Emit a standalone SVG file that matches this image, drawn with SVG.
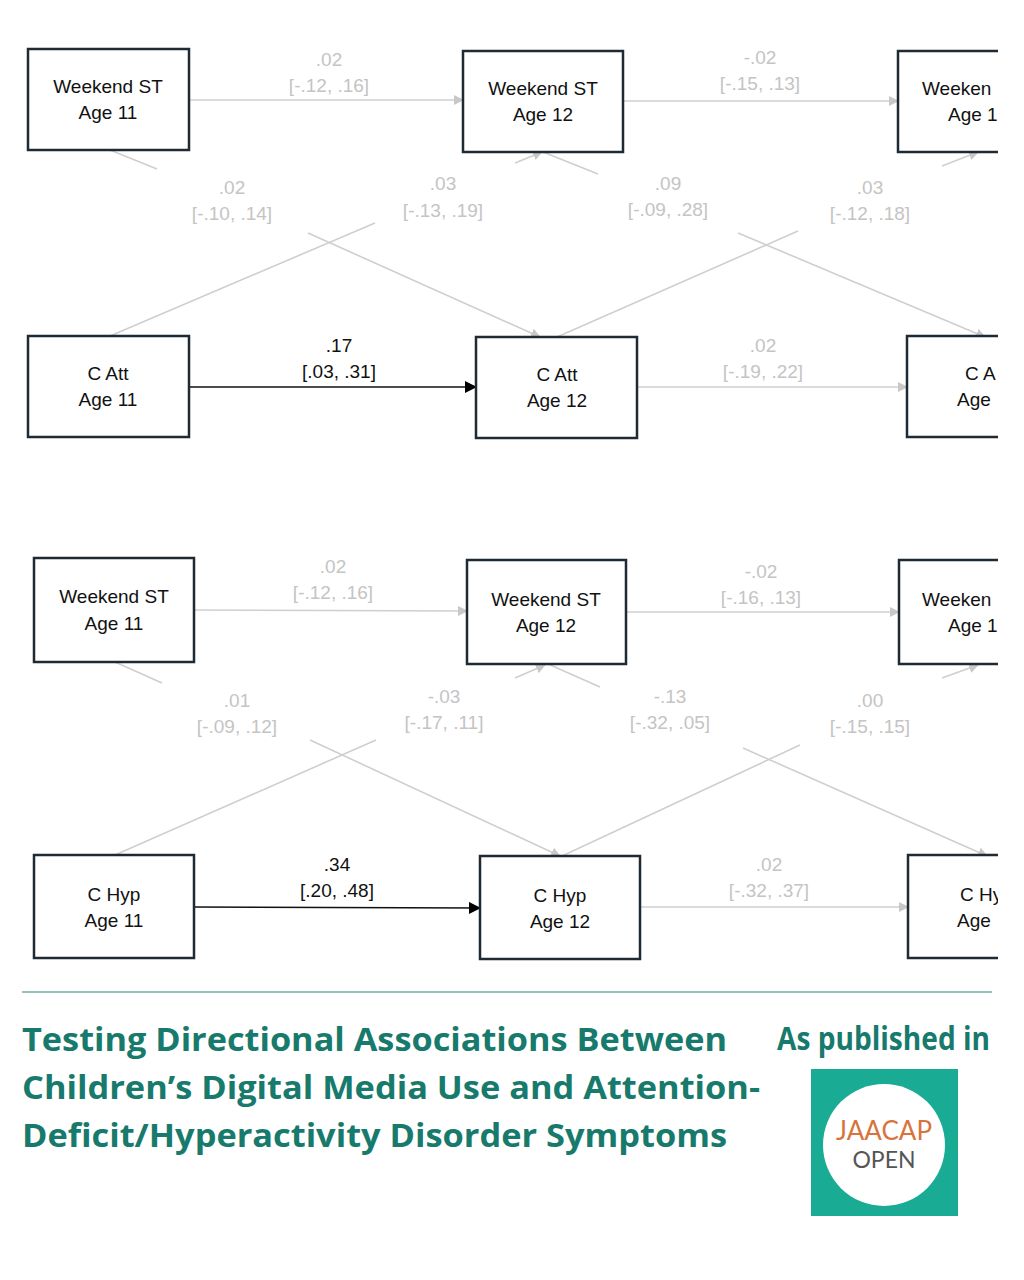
<svg xmlns="http://www.w3.org/2000/svg" width="1024" height="1280" viewBox="0 0 1024 1280">
<style>
.box{fill:#fff;stroke:#1f2a33;stroke-width:2.5}
.nt{font-family:"Liberation Sans",Arial,sans-serif;font-size:19px;fill:#111;text-anchor:middle}
.ns{font-family:"Liberation Sans",Arial,sans-serif;font-size:19px;fill:#111}
.lg{font-family:"Liberation Sans",Arial,sans-serif;font-size:19px;fill:#c4c4c4;text-anchor:middle}
.lb{font-family:"Liberation Sans",Arial,sans-serif;font-size:19px;fill:#111;text-anchor:middle}
.g{stroke:#cfcfcf;stroke-width:1.6;fill:none}
.k{stroke:#111;stroke-width:1.6;fill:none}
.tt{font-family:"Open Sans","Noto Sans",sans-serif;font-weight:bold;font-size:32px;fill:#177a6c}
</style>
<defs>
<marker id="ag" markerWidth="10" markerHeight="10" refX="9" refY="5" orient="auto" markerUnits="userSpaceOnUse"><path d="M0,0L10,5L0,10z" fill="#c8c8c8"/></marker>
<marker id="ak" markerWidth="12" markerHeight="12" refX="11" refY="6" orient="auto" markerUnits="userSpaceOnUse"><path d="M0,0L12,6L0,12z" fill="#000"/></marker>
<clipPath id="cp"><rect x="0" y="0" width="998" height="980"/></clipPath>
</defs>
<rect width="1024" height="1280" fill="#fff"/>
<g clip-path="url(#cp)">
<g id="connectors">
<line class="g" x1="189" y1="100" x2="463" y2="100" marker-end="url(#ag)"/>
<line class="g" x1="623" y1="101" x2="898" y2="101" marker-end="url(#ag)"/>
<line class="k" x1="189" y1="387" x2="476" y2="387" marker-end="url(#ak)"/>
<line class="g" x1="637" y1="387" x2="907" y2="387" marker-end="url(#ag)"/>
<line class="g" x1="110" y1="150" x2="157" y2="169"/>
<line class="g" x1="308" y1="233" x2="540" y2="337" marker-end="url(#ag)"/>
<line class="g" x1="110" y1="336" x2="375" y2="223"/>
<line class="g" x1="515" y1="163" x2="542" y2="152" marker-end="url(#ag)"/>
<line class="g" x1="543" y1="152" x2="598" y2="174"/>
<line class="g" x1="738" y1="233" x2="985" y2="337" marker-end="url(#ag)"/>
<line class="g" x1="557" y1="337" x2="798" y2="231"/>
<line class="g" x1="942" y1="166" x2="978" y2="152" marker-end="url(#ag)"/>
<line class="g" x1="194" y1="610" x2="467" y2="611" marker-end="url(#ag)"/>
<line class="g" x1="626" y1="612" x2="899" y2="612" marker-end="url(#ag)"/>
<line class="k" x1="194" y1="907" x2="480" y2="908" marker-end="url(#ak)"/>
<line class="g" x1="640" y1="907" x2="908" y2="907" marker-end="url(#ag)"/>
<line class="g" x1="115" y1="662" x2="162" y2="683"/>
<line class="g" x1="310" y1="740" x2="560" y2="856" marker-end="url(#ag)"/>
<line class="g" x1="115" y1="855" x2="376" y2="740"/>
<line class="g" x1="515" y1="678" x2="545" y2="665" marker-end="url(#ag)"/>
<line class="g" x1="548" y1="664" x2="600" y2="687"/>
<line class="g" x1="743" y1="748" x2="987" y2="856" marker-end="url(#ag)"/>
<line class="g" x1="562" y1="856" x2="800" y2="745"/>
<line class="g" x1="942" y1="678" x2="978" y2="665" marker-end="url(#ag)"/>
</g>
<g id="labels">
<text class="lg" x="329" y="66">.02</text><text class="lg" x="329" y="92">[-.12, .16]</text>
<text class="lg" x="760" y="64">-.02</text><text class="lg" x="760" y="90">[-.15, .13]</text>
<text class="lg" x="232" y="194">.02</text><text class="lg" x="232" y="220">[-.10, .14]</text>
<text class="lg" x="443" y="190">.03</text><text class="lg" x="443" y="217">[-.13, .19]</text>
<text class="lg" x="668" y="190">.09</text><text class="lg" x="668" y="216">[-.09, .28]</text>
<text class="lg" x="870" y="194">.03</text><text class="lg" x="870" y="220">[-.12, .18]</text>
<text class="lb" x="339" y="352">.17</text><text class="lb" x="339" y="378">[.03, .31]</text>
<text class="lg" x="763" y="352">.02</text><text class="lg" x="763" y="378">[-.19, .22]</text>
<text class="lg" x="333" y="573">.02</text><text class="lg" x="333" y="599">[-.12, .16]</text>
<text class="lg" x="761" y="578">-.02</text><text class="lg" x="761" y="604">[-.16, .13]</text>
<text class="lg" x="237" y="707">.01</text><text class="lg" x="237" y="733">[-.09, .12]</text>
<text class="lg" x="444" y="703">-.03</text><text class="lg" x="444" y="729">[-.17, .11]</text>
<text class="lg" x="670" y="703">-.13</text><text class="lg" x="670" y="729">[-.32, .05]</text>
<text class="lg" x="870" y="707">.00</text><text class="lg" x="870" y="733">[-.15, .15]</text>
<text class="lb" x="337" y="871">.34</text><text class="lb" x="337" y="897">[.20, .48]</text>
<text class="lg" x="769" y="871">.02</text><text class="lg" x="769" y="897">[-.32, .37]</text>
</g>
<g id="n1"><rect class="box" x="28" y="49" width="161" height="101"/><text class="nt" x="108" y="93">Weekend ST</text><text class="nt" x="108" y="119">Age 11</text></g>
<g id="n2"><rect class="box" x="463" y="51" width="160" height="101"/><text class="nt" x="543" y="95">Weekend ST</text><text class="nt" x="543" y="121">Age 12</text></g>
<g id="n3"><rect class="box" x="898" y="51" width="160" height="101"/><text class="ns" x="922" y="95">Weeken</text><text class="ns" x="948" y="121">Age 1</text></g>
<g id="n4"><rect class="box" x="28" y="336" width="161" height="101"/><text class="nt" x="108" y="380">C Att</text><text class="nt" x="108" y="406">Age 11</text></g>
<g id="n5"><rect class="box" x="476" y="337" width="161" height="101"/><text class="nt" x="557" y="381">C Att</text><text class="nt" x="557" y="407">Age 12</text></g>
<g id="n6"><rect class="box" x="907" y="336" width="160" height="101"/><text class="ns" x="965" y="380">C A</text><text class="ns" x="957" y="406">Age</text></g>
<g id="n7"><rect class="box" x="34" y="558" width="160" height="104"/><text class="nt" x="114" y="603">Weekend ST</text><text class="nt" x="114" y="630">Age 11</text></g>
<g id="n8"><rect class="box" x="467" y="560" width="159" height="104"/><text class="nt" x="546" y="606">Weekend ST</text><text class="nt" x="546" y="632">Age 12</text></g>
<g id="n9"><rect class="box" x="899" y="560" width="160" height="104"/><text class="ns" x="922" y="606">Weeken</text><text class="ns" x="948" y="632">Age 1</text></g>
<g id="n10"><rect class="box" x="34" y="855" width="160" height="103"/><text class="nt" x="114" y="901">C Hyp</text><text class="nt" x="114" y="927">Age 11</text></g>
<g id="n11"><rect class="box" x="480" y="856" width="160" height="103"/><text class="nt" x="560" y="902">C Hyp</text><text class="nt" x="560" y="928">Age 12</text></g>
<g id="n12"><rect class="box" x="908" y="855" width="160" height="103"/><text class="ns" x="960" y="901">C Hy</text><text class="ns" x="957" y="927">Age</text></g>
</g>
<line x1="22" y1="992" x2="992" y2="992" stroke="#2a8a7c" stroke-width="1.2"/>
<g id="title">
<text class="tt" x="22" y="1051" textLength="705" lengthAdjust="spacingAndGlyphs">Testing Directional Associations Between</text>
<text class="tt" x="22" y="1099" textLength="738" lengthAdjust="spacingAndGlyphs">Children’s Digital Media Use and Attention-</text>
<text class="tt" x="22" y="1147" textLength="705" lengthAdjust="spacingAndGlyphs">Deficit/Hyperactivity Disorder Symptoms</text>
<text class="tt" x="777" y="1050" font-size="27" textLength="213" lengthAdjust="spacingAndGlyphs">As published in</text>
</g>
<g id="logo">
<rect x="811" y="1069" width="147" height="147" fill="#1aab95"/>
<circle cx="884" cy="1145" r="61" fill="#fff"/>
<text x="884" y="1140" text-anchor="middle" font-family="Lato,'Liberation Sans',sans-serif" font-size="26" fill="#d9733d">JAACAP</text>
<text x="884" y="1168" text-anchor="middle" font-family="Lato,'Liberation Sans',sans-serif" font-size="23" fill="#555">OPEN</text>
</g>
</svg>
